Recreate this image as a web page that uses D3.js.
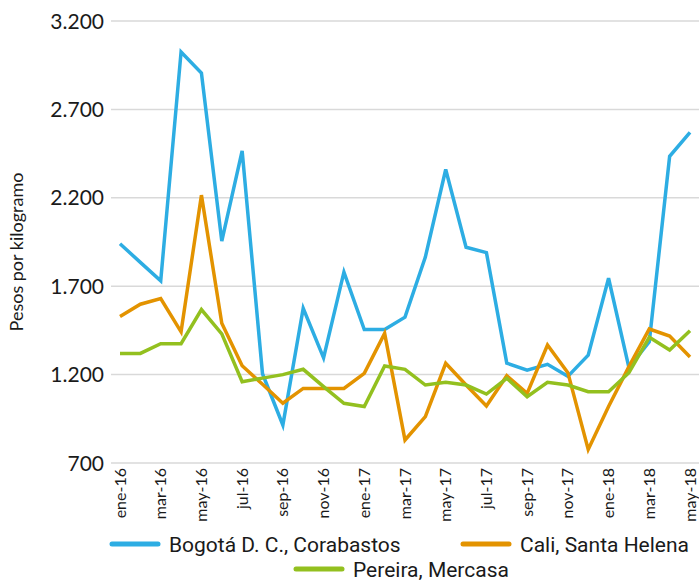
<!DOCTYPE html>
<html>
<head>
<meta charset="utf-8">
<script src="https://cdn.jsdelivr.net/npm/d3@7"></script>
<style>
  body { margin: 0; background: #fff; }
  svg text { font-family: 'Lato', 'Open Sans', sans-serif; fill: #1a1a1a; }
</style>
</head>
<body>
<div id="chart"></div>
<script>
// Data
const months = ['ene-16','feb-16','mar-16','abr-16','may-16','jun-16','jul-16','ago-16','sep-16','oct-16','nov-16','dic-16',
                'ene-17','feb-17','mar-17','abr-17','may-17','jun-17','jul-17','ago-17','sep-17','oct-17','nov-17','dic-17',
                'ene-18','feb-18','mar-18','abr-18','may-18'];
const bogota = [1940, 1835, 1730, 3025, 2905, 1955, 2465, 1205, 915, 1575, 1295, 1780,
                1455, 1455, 1525, 1865, 2360, 1920, 1890, 1265, 1225, 1258, 1190, 1310,
                1745, 1240, 1385, 2435, 2570];
const cali = [1528, 1598, 1630, 1442, 2215, 1490, 1250, 1145, 1038, 1122, 1122, 1122,
              1207, 1433, 830, 962, 1264, 1141, 1022, 1194, 1094, 1367, 1211, 777,
              1020, 1245, 1458, 1418, 1300];
const pereira = [1320, 1320, 1375, 1375, 1568, 1430, 1160, 1180, 1200, 1230, 1132, 1038,
                 1019, 1249, 1230, 1141, 1156, 1141, 1090, 1179, 1075, 1156, 1141, 1103,
                 1103, 1211, 1411, 1339, 1448];
const yTicks = [700, 1200, 1700, 2200, 2700, 3200];
const seriesNames = ['Bogotá D. C., Corabastos', 'Cali, Santa Helena', 'Pereira, Mercasa'];

// Constant
const width = 699;
const height = 581;
const colors = ['#2dade3', '#e39300', '#93c01f'];
const plotLeft = 111;
const plotRight = 699;
const plotTop = 21;
const plotBottom = 463;

const xScale = d3.scalePoint().domain(months).range([120, 690]);
const yScale = d3.scaleLinear().domain([700, 3200]).range([plotBottom, plotTop]);

const svg = d3.select('#chart').append('svg')
    .attr('width', width)
    .attr('height', height);

// Gridlines
svg.append('g').selectAll('line')
    .data(yTicks)
    .enter().append('line')
      .attr('x1', plotLeft)
      .attr('x2', plotRight)
      .attr('y1', d => yScale(d))
      .attr('y2', d => yScale(d))
      .attr('stroke', '#d9d9d9')
      .attr('stroke-width', 1.5);

// Y axis labels
const fmt = d3.formatLocale({decimal: ',', thousands: '.', grouping: [3], currency: ['$', '']}).format(',');
svg.append('g').selectAll('text')
    .data(yTicks)
    .enter().append('text')
      .attr('x', 104)
      .attr('y', d => yScale(d))
      .attr('dy', '0.36em')
      .attr('text-anchor', 'end')
      .style('font-size', '21px')
      .text(d => fmt(d));

svg.append('text')
    .attr('transform', `translate(23, ${(plotTop + plotBottom) / 2 + 10}) rotate(-90)`)
    .attr('text-anchor', 'middle')
    .style('font-size', '18px')
    .text('Pesos por kilogramo');

// X axis labels (every other month)
svg.append('g').selectAll('text')
    .data(months.filter((d, i) => i % 2 === 0))
    .enter().append('text')
      .attr('transform', d => `translate(${xScale(d)}, 468) rotate(-90)`)
      .attr('dy', '0.35em')
      .attr('text-anchor', 'end')
      .style('font-size', '16px')
      .text(d => d);

// Lines
const line = d3.line()
    .x((d, i) => xScale(months[i]))
    .y(d => yScale(d));

[bogota, cali, pereira].forEach((s, k) => {
    svg.append('path')
        .datum(s)
        .attr('d', line)
        .attr('fill', 'none')
        .attr('stroke', colors[k])
        .attr('stroke-width', 3.5)
        .attr('stroke-linejoin', 'miter');
});

// Legend
const legendPos = [{x: 112, y: 544}, {x: 463, y: 544}, {x: 296, y: 569}];
const legend = svg.append('g');
seriesNames.forEach((name, k) => {
    legend.append('line')
        .attr('x1', legendPos[k].x)
        .attr('x2', legendPos[k].x + 46)
        .attr('y1', legendPos[k].y)
        .attr('y2', legendPos[k].y)
        .attr('stroke', colors[k])
        .attr('stroke-width', 5)
        .attr('stroke-linecap', 'round');
    legend.append('text')
        .attr('x', legendPos[k].x + 57)
        .attr('y', legendPos[k].y)
        .attr('dy', '0.36em')
        .style('font-family', "'Roboto', sans-serif")
        .style('font-size', '21px')
        .text(name);
});
</script>
</body>
</html>
